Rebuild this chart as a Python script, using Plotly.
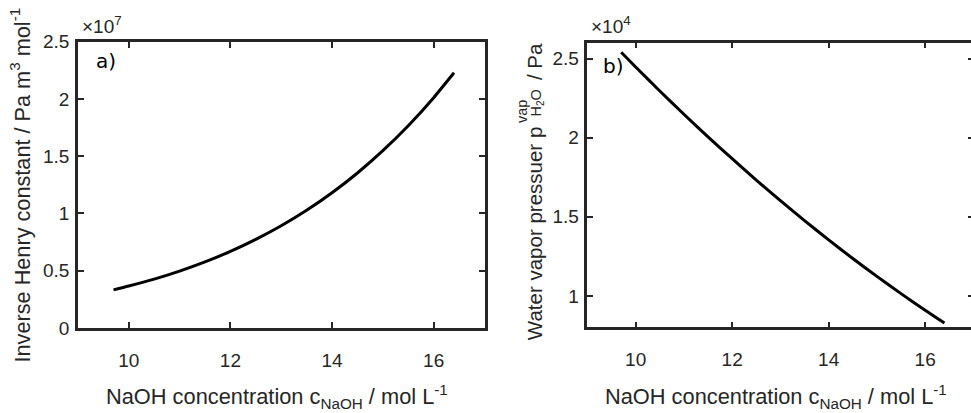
import numpy as np
import plotly.graph_objects as go

# a) inverse Henry constant (Pa m^3/mol) vs NaOH concentration (mol/L)
c_naoh_a = [9.7, 10.0, 10.5, 11.0, 11.5, 12.0, 12.5, 13.0, 13.5, 14.0, 14.5, 15.0, 15.5, 16.0, 16.4]
inv_henry = [0.333e7, 0.366e7, 0.427e7, 0.497e7, 0.577e7, 0.669e7, 0.774e7, 0.893e7,
             1.028e7, 1.181e7, 1.354e7, 1.549e7, 1.767e7, 2.012e7, 2.229e7]

# b) water vapour pressure (Pa) vs NaOH concentration (mol/L)
c_naoh_b = [9.7, 10.0, 10.5, 11.0, 11.5, 12.0, 12.5, 13.0, 13.5, 14.0, 14.5, 15.0, 15.5, 16.0, 16.4]
p_vap = [2.540e4, 2.447e4, 2.295e4, 2.148e4, 2.005e4, 1.867e4, 1.732e4, 1.602e4,
         1.476e4, 1.354e4, 1.236e4, 1.123e4, 1.014e4, 0.909e4, 0.828e4]

x_ticks = [10, 12, 14, 16]
ya_ticks = [0, 0.5, 1, 1.5, 2, 2.5]
yb_ticks = [1, 1.5, 2, 2.5]
scale_a = 1e7
scale_b = 1e4

W, H = 976, 413
AX = "#262626"
FONT = "Liberation Sans, Arial, Helvetica, sans-serif"


def px_x(p):
    return p / W


def px_y(p):
    return (H - p) / H


fig = go.Figure()
fig.add_trace(go.Scatter(
    x=c_naoh_a, y=np.array(inv_henry) / scale_a, mode="lines",
    line=dict(color="black", width=3, shape="spline", smoothing=0.6),
    xaxis="x", yaxis="y", showlegend=False))
fig.add_trace(go.Scatter(
    x=c_naoh_b, y=np.array(p_vap) / scale_b, mode="lines",
    line=dict(color="black", width=3, shape="spline", smoothing=0.6),
    xaxis="x2", yaxis="y2", showlegend=False))

axis_style = dict(
    showline=True, linecolor=AX, linewidth=2.5, mirror="ticks",
    ticks="inside", ticklen=6, tickwidth=1.5, tickcolor=AX,
    showgrid=False, zeroline=False,
    tickfont=dict(family=FONT, size=19, color=AX),
)
x_style = dict(axis_style, ticklabelstandoff=13)
y_style = dict(axis_style, ticklabelstandoff=2)

fig.update_layout(
    width=W, height=H,
    margin=dict(l=0, r=0, t=0, b=0),
    paper_bgcolor="white", plot_bgcolor="white",
    xaxis=dict(domain=[px_x(78), px_x(485)], range=[9, 17], tickvals=x_ticks,
               anchor="y", **x_style),
    yaxis=dict(domain=[px_y(335), px_y(33.5)], range=[0, 2.5], tickvals=ya_ticks,
               anchor="x", **y_style),
    xaxis2=dict(domain=[px_x(588), px_x(974.4)], range=[9, 17], tickvals=x_ticks,
                anchor="y2", **x_style),
    yaxis2=dict(domain=[px_y(334.5), px_y(34.5)], range=[0.8, 2.6], tickvals=yb_ticks,
                anchor="x2", **y_style),
)

xtitle_font = dict(family=FONT, size=21.8, color=AX)
ytitle_a_font = dict(family=FONT, size=21.7, color=AX)
ytitle_b_font = dict(family=FONT, size=20.5, color=AX)
script_font = dict(family=FONT, size=14.4, color=AX)
exp_font = dict(family=FONT, size=19, color=AX)
panel_font = dict(family="DejaVu Sans, Verdana, sans-serif", size=20, color="black")

x_title = "NaOH concentration c<sub>NaOH</sub> / mol L<sup>-1</sup>"

annotations = [
    # x-axis titles
    dict(x=px_x(277), y=px_y(407), text=x_title,
         xanchor="center", yanchor="middle", font=xtitle_font),
    dict(x=px_x(777), y=px_y(407), text=x_title,
         xanchor="center", yanchor="middle", font=xtitle_font),
    # y-axis title, panel a
    dict(x=px_x(20), y=px_y(373), text="Inverse Henry constant / Pa m<sup>3</sup> mol<sup>-1</sup>",
         textangle=-90, xanchor="center", yanchor="bottom", font=ytitle_a_font),
    # y-axis title, panel b (p with stacked vap / H2O scripts)
    dict(x=px_x(535), y=px_y(350), text="Water vapor pressuer p",
         textangle=-90, xanchor="center", yanchor="bottom", font=ytitle_b_font),
    dict(x=px_x(522), y=px_y(107), text="vap", textangle=-90,
         xanchor="center", yanchor="middle", font=script_font),
    dict(x=px_x(538), y=px_y(98), text="H<sub>2</sub>O", textangle=-90,
         xanchor="center", yanchor="middle", font=script_font),
    dict(x=px_x(535), y=px_y(76), text="/ Pa", textangle=-90,
         xanchor="center", yanchor="bottom", font=ytitle_b_font),
    # exponent labels
    dict(x=px_x(80), y=px_y(31), text="\u00d710<sup>7</sup>", xanchor="left", yanchor="bottom",
         font=exp_font),
    dict(x=px_x(590), y=px_y(31), text="\u00d710<sup>4</sup>", xanchor="left", yanchor="bottom",
         font=exp_font),
    # panel letters
    dict(x=px_x(94), y=px_y(54), text="a)", xanchor="left", yanchor="middle", font=panel_font),
    dict(x=px_x(602), y=px_y(59), text="b)", xanchor="left", yanchor="middle", font=panel_font),
]
for a in annotations:
    a.update(xref="paper", yref="paper", showarrow=False)
fig.update_layout(annotations=annotations)

fig.write_html(
    "out.html",
    post_script="document.body.style.overflow='hidden';"
                "document.documentElement.style.overflow='hidden';",
)
